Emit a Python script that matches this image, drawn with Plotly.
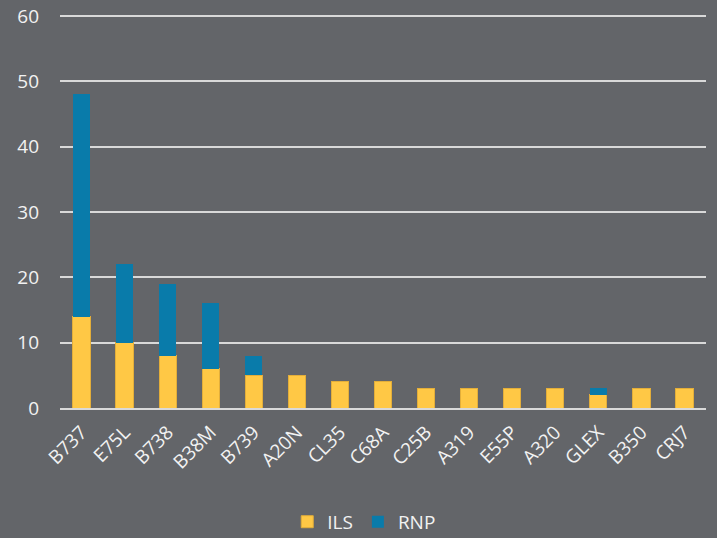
import plotly.graph_objects as go

aircraft = ['B737', 'E75L', 'B738', 'B38M', 'B739', 'A20N', 'CL35', 'C68A',
            'C25B', 'A319', 'E55P', 'A320', 'GLEX', 'B350', 'CRJ7']
ils = [14, 10, 8, 6, 5, 5, 4, 4, 3, 3, 3, 3, 2, 3, 3]
rnp = [34, 12, 11, 10, 3, 0, 0, 0, 0, 0, 0, 0, 1, 0, 0]

bg = '#636569'
font_color = '#f2f2f2'

fig = go.Figure()
fig.add_trace(go.Bar(x=aircraft, y=ils, name='ILS',
                     marker=dict(color='#FFC845', line=dict(color='#E3AE3A', width=1))))
fig.add_trace(go.Bar(x=aircraft, y=rnp, name='RNP',
                     marker=dict(color='#097BAA', line=dict(color='#097BAA', width=0))))

fig.update_layout(
    width=717, height=538,
    barmode='stack',
    bargap=0.6,
    plot_bgcolor=bg,
    paper_bgcolor=bg,
    margin=dict(l=60, r=11, t=14, b=130),
    font=dict(family='Open Sans', color=font_color, size=19),
    showlegend=True,
    legend=dict(orientation='h', xref='container', yref='container',
                x=0.508, xanchor='center', y=0.03, yanchor='middle',
                traceorder='normal', font=dict(size=19, color=font_color)),
)

fig.update_yaxes(range=[0, 60.3], tickvals=[0, 10, 20, 30, 40, 50, 60], showgrid=True,
                 gridcolor='#d9d9d9', gridwidth=1.5, automargin=False,
                 zeroline=False, showline=False, ticks='', ticklabelstandoff=20,
                 tickfont=dict(size=19, color=font_color))
fig.update_xaxes(tickangle=-45, showgrid=False, showline=True, linecolor='#d9d9d9', linewidth=1.5,
                 ticks='', ticklabelstandoff=4, automargin=False,
                 tickfont=dict(size=19, color=font_color))

fig.write_html("out.html", config={'displayModeBar': False},
               post_script="document.body.style.margin='0';")
